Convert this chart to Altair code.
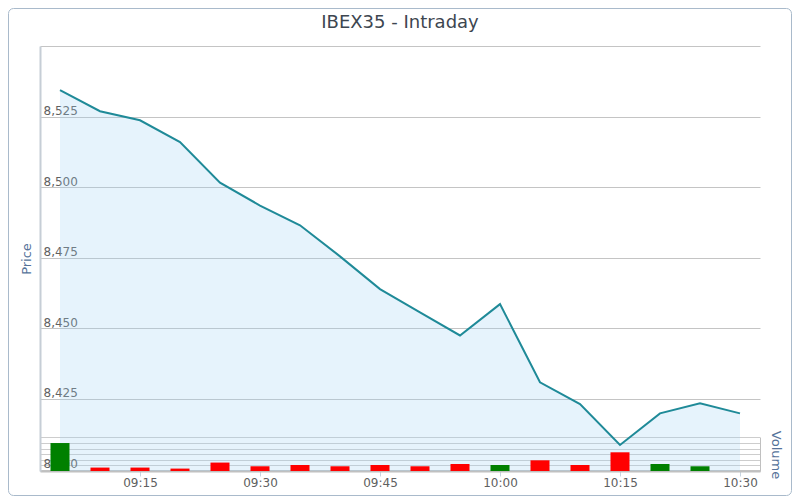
import altair as alt
import pandas as pd

# ---- data ----
times = ["09:05", "09:10", "09:15", "09:20", "09:25", "09:30", "09:35", "09:40", "09:45",
         "09:50", "09:55", "10:00", "10:05", "10:10", "10:15", "10:20", "10:25", "10:30"]
price = [8534.4, 8526.9, 8523.7, 8516.0, 8501.6, 8493.5, 8486.5, 8475.5, 8463.9,
         8455.7, 8447.5, 8458.6, 8430.9, 8423.2, 8408.7, 8419.9, 8423.5, 8419.9]
volume = [498, 61, 61, 43, 150, 84, 107, 84, 107,
          84, 125, 107, 190, 107, 333, 125, 84, 0]
direction = ["up", "down", "down", "down", "down", "down", "down", "down", "down",
             "down", "down", "up", "down", "down", "down", "up", "up", "down"]

x_ticks = ["09:15", "09:30", "09:45", "10:00", "10:15", "10:30"]
price_ticks = [8400, 8425, 8450, 8475, 8500, 8525, 8550]
volume_ticks = [0, 100, 200, 300, 400, 500, 600]


def to_min(s):
    h, m = s.split(":")
    return int(h) * 60 + int(m)


df = pd.DataFrame({
    "time": times,
    "minute": [to_min(t) for t in times],
    "price": price,
    "volume": volume,
    "dir": direction,
})

FONT = "DejaVu Sans"
W, H = 720, 425

x_enc = alt.X(
    "minute:Q",
    scale=alt.Scale(domain=[to_min("09:02") + 0.5, to_min("10:32") + 0.5],
                    nice=False, zero=False, padding=0),
    axis=alt.Axis(
        values=[to_min(t) for t in x_ticks],
        labelExpr="(datum.value < 600 ? '0' : '') + floor(datum.value / 60) + ':' + (datum.value % 60 < 10 ? '0' : '') + (datum.value % 60)",
        title=None,
        grid=False,
        domainColor="#C0C0C0",
        domainWidth=2,
        tickColor="#C8D4E0",
        tickSize=5,
        labelFont=FONT,
        labelFontSize=12,
        labelColor="#606060",
        labelPadding=1,
    ),
)

y_price = alt.Y(
    "price:Q",
    stack=None,
    scale=alt.Scale(domain=[8399.5, 8550], nice=False, zero=False),
    axis=alt.Axis(
        orient="left",
        values=price_ticks,
        labelExpr="datum.value >= 8550 ? '' : format(datum.value, ',')",
        title="Price",
        titleX=-14,
        titleY=H / 2,
        titleAngle=270,
        titleAlign="center",
        titleBaseline="middle",
        titleFont=FONT,
        titleFontSize=13,
        titleFontWeight="normal",
        titleColor="#56739a",
        ticks=False,
        labelAlign="left",
        labelBaseline="alphabetic",
        labelPadding=-3,
        labelOffset=-2,
        labelFont=FONT,
        labelFontSize=12,
        labelColor="#606060",
        labelOverlap=False,
        labelBound=False,
        grid=True,
        gridColor="#C4C4C4",
        gridWidth=1,
        domainColor="#C6CED6",
        domainWidth=2,
    ),
)

area = alt.Chart(df).mark_area(color="#9fd0f5", opacity=0.26, clip=True).encode(
    x=x_enc, y=y_price, y2=alt.value(H)
)
line = alt.Chart(df).mark_line(color="#1f8a98", strokeWidth=2).encode(x=x_enc, y=y_price)
price_layer = alt.layer(area, line)

bars = alt.Chart(df).mark_bar(size=19).encode(
    x=x_enc,
    y=alt.Y(
        "volume:Q",
        scale=alt.Scale(domain=[0, 600], range=[H, H - 33.7], nice=False),
        axis=alt.Axis(
            orient="right",
            values=volume_ticks,
            labels=False,
            ticks=False,
            grid=True,
            gridColor="#CDCDCD",
            gridWidth=1,
            domainColor="#C0C0C0",
            domainWidth=1,
            title="Volume",
            titleX=15,
            titleY=H - 16.5,
            titleAngle=90,
            titleAlign="center",
            titleBaseline="middle",
            titleFont=FONT,
            titleFontSize=13,
            titleFontWeight="normal",
            titleColor="#56739a",
        ),
    ),
    color=alt.Color(
        "dir:N",
        scale=alt.Scale(domain=["up", "down"], range=["#008000", "#ff0000"]),
        legend=None,
    ),
)

border = alt.Chart(pd.DataFrame({"a": [0]})).mark_rect(
    fill="transparent", stroke="#A9BACB", strokeWidth=1, cornerRadius=5, clip=False
).encode(
    x=alt.value(-31.5), x2=alt.value(751.5), y=alt.value(-37.5), y2=alt.value(449.5)
)

chart = alt.layer(border, price_layer, bars).resolve_scale(
    y="independent"
).properties(
    width=W,
    height=H,
    autosize=alt.AutoSizeParams(type="none"),
    padding={"left": 32, "top": 38, "right": 32, "bottom": 25},
    title=alt.TitleParams(
        "IBEX35 - Intraday",
        font=FONT,
        fontSize=18,
        fontWeight="normal",
        color="#3d4650",
        anchor="middle",
        baseline="alphabetic",
        frame="group",
        offset=0,
        dy=37.5,
    ),
).configure_view(stroke=None)

chart.save("out.html", embed_options={"renderer": "svg", "actions": False})
